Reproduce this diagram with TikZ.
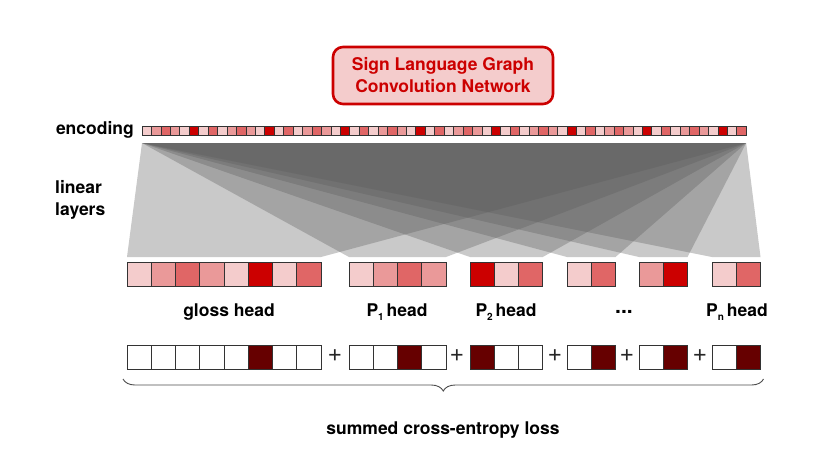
\documentclass[tikz,border=0pt]{standalone}
\usepackage{fontspec}
\setmainfont{TeX Gyre Heros}
\usetikzlibrary{decorations.pathreplacing}
\definecolor{cL}{HTML}{F4CCCC}
\definecolor{cM}{HTML}{EA9999}
\definecolor{cD}{HTML}{E06666}
\definecolor{cR}{HTML}{CC0000}
\definecolor{cK}{HTML}{660000}
\definecolor{fangray}{HTML}{5A5A5A}
\definecolor{edge}{HTML}{333333}
\newcommand\headrow[3]{%
  \foreach \c [count=\k] in {#3}{%
    \node[cell, fill=\c] (#1-\k) at ({#2+(\k-1)*24.25},262) {};}}
\newcommand\lossrow[3]{%
  \foreach \c [count=\k] in {#3}{%
    \node[cell, fill=\c] (#1-\k) at ({#2+(\k-1)*24.25},345) {};}}
\begin{document}
\begin{tikzpicture}[x=1pt,y=-1pt,
  cell/.style={draw=edge, line width=0.8pt, minimum width=24.25pt, minimum height=24pt, inner sep=0pt, outer sep=0pt, anchor=north west},
  ecell/.style={draw=edge, line width=0.6pt, minimum width=9.44pt, minimum height=9pt, inner sep=0pt, outer sep=0pt, anchor=north west},
  fan/.style={fill=fangray, fill opacity=0.33, draw=none},
  lbl/.style={font=\fontsize{17.5}{22}\selectfont\bfseries, inner sep=0pt},
  plus/.style={font=\fontsize{25}{25}\selectfont, inner sep=0pt, text=black!85},
  title/.style={draw=cR, fill=cL, line width=2.6pt, rounded corners=10pt, text=cR, align=center, minimum width=220pt, minimum height=57pt, font=\fontsize{17.5}{22}\selectfont\bfseries, inner sep=0pt}
]
\useasboundingbox (0,0) rectangle (830,467);

% title
\node[title] (sgcn) at (443,75.5) {Sign Language Graph\\Convolution Network};

% encoding bar
\foreach \r in {0,...,7}{
  \foreach \c [count=\k from 0] in {cL,cM,cD,cM,cL,cR,cL,cD}{
    \pgfmathtruncatemacro\n{\r*8+\k+1}
    \node[ecell, fill=\c] (enc-\n) at ({142+(\n-1)*9.44},126) {};
  }
}
\node[lbl, anchor=east] (enclbl) at (134,130) {encoding};
\node[lbl, anchor=west, align=left] (linlbl) at (55,200) {linear\\layers};

% heads
\headrow{g}{127}{cL,cM,cD,cM,cL,cR,cL,cD}
\headrow{pa}{349}{cL,cM,cD,cM}
\headrow{pb}{470}{cR,cL,cD}
\headrow{pc}{567}{cL,cD}
\headrow{pd}{639}{cM,cR}
\headrow{pn}{712}{cL,cD}

% fans
\coordinate (ftl) at ([yshift=-8pt]enc-1.south west);
\coordinate (ftr) at ([yshift=-8pt]enc-64.south east);
\fill[fan] (ftl) -- (ftr) -- ([yshift=5pt]g-8.north east) -- ([yshift=5pt]g-1.north west) -- cycle;
\fill[fan] (ftl) -- (ftr) -- ([yshift=5pt]pa-4.north east) -- ([yshift=5pt]pa-1.north west) -- cycle;
\fill[fan] (ftl) -- (ftr) -- ([yshift=5pt]pb-3.north east) -- ([yshift=5pt]pb-1.north west) -- cycle;
\fill[fan] (ftl) -- (ftr) -- ([yshift=5pt]pc-2.north east) -- ([yshift=5pt]pc-1.north west) -- cycle;
\fill[fan] (ftl) -- (ftr) -- ([yshift=5pt]pd-2.north east) -- ([yshift=5pt]pd-1.north west) -- cycle;
\fill[fan] (ftl) -- (ftr) -- ([yshift=5pt]pn-2.north east) -- ([yshift=5pt]pn-1.north west) -- cycle;

% head labels
\node[lbl] (glbl) at (229,312) {gloss head};
\node[lbl] (palbl) at (397,312) {P\raisebox{-4pt}{\fontsize{10}{10}\selectfont 1}\,head};
\node[lbl] (pblbl) at (506,312) {P\raisebox{-4pt}{\fontsize{10}{10}\selectfont 2}\,head};
\node[lbl, font=\fontsize{21}{22}\selectfont\bfseries] (dots) at (624,312) {...};
\node[lbl] (pnlbl) at (737,312) {P\raisebox{-4pt}{\fontsize{10}{10}\selectfont n}\,head};

% loss rows
\lossrow{lg}{127}{white,white,white,white,white,cK,white,white}
\lossrow{la}{349}{white,white,cK,white}
\lossrow{lb}{470}{cK,white,white}
\lossrow{lc}{567}{white,cK}
\lossrow{ld}{639}{white,cK}
\lossrow{ln}{712}{white,cK}

\node[plus] (plus1) at (335,356) {+};
\node[plus] (plus2) at (457,356) {+};
\node[plus] (plus3) at (555,356) {+};
\node[plus] (plus4) at (627,356) {+};
\node[plus] (plus5) at (700,356) {+};

% brace
\coordinate (bl) at ([xshift=-4pt,yshift=-10pt]lg-1.south west);
\coordinate (br) at ([xshift=3pt,yshift=-10pt]ln-2.south east);
\draw[decorate, decoration={brace, mirror, amplitude=12pt}, line width=0.9pt, draw=black!70] (bl) -- (br);
\node[lbl] (losslbl) at (443,430) {summed cross-entropy loss};
\end{tikzpicture}
\end{document}
